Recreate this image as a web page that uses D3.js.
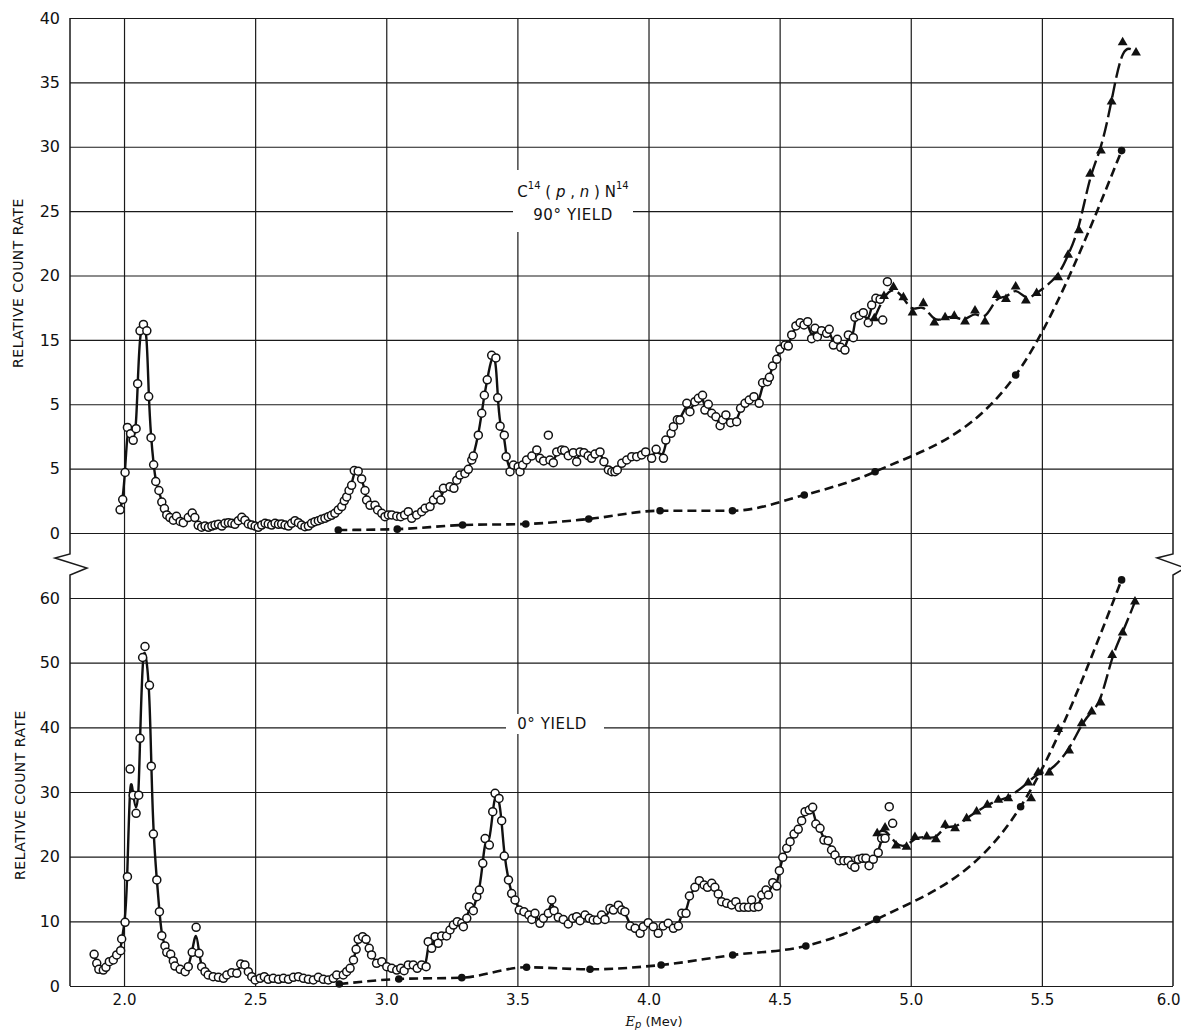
<!DOCTYPE html>
<html>
<head>
<meta charset="utf-8">
<script src="https://cdn.jsdelivr.net/npm/d3@7"></script>
<style>
body { margin: 0; background: #fff; }
svg text { font-family: "DejaVu Sans", sans-serif; fill: #111; }
</style>
</head>
<body>
<svg id="chart" width="1181" height="1032"></svg>
<script>
// x axis (proton energy, MeV)
var xTicks = [2.0, 2.5, 3.0, 3.5, 4.0, 4.5, 5.0, 5.5, 6.0];
var xTickLabels = ["2.0", "2.5", "3.0", "3.5", "4.0", "4.5", "5.0", "5.5", "6.0"];

// y ticks, upper (90 deg) and lower (0 deg) panels, labels as printed
var topTicks = [0, 5, 10, 15, 20, 25, 30, 35, 40];
var topTickLabels = ["0", "5", "5", "15", "20", "25", "30", "35", "40"];
var bottomTicks = [0, 10, 20, 30, 40, 50, 60];
var bottomTickLabels = ["0", "10", "20", "30", "40", "50", "60"];

// 90 deg yield, open circles [E, rate]
var yield90Circles = [
    [1.985,1.8],[1.995,2.6],[2.004,4.7],[2.013,8.2],[2.025,7.7],[2.035,7.2],[2.046,8.1],[2.052,11.6],
    [2.061,15.7],[2.074,16.2],[2.087,15.7],[2.094,10.6],[2.103,7.4],[2.113,5.3],[2.121,4.0],[2.133,3.3],
    [2.144,2.4],[2.154,1.9],[2.163,1.4],[2.175,1.2],[2.188,1.0],[2.2,1.3],[2.214,0.9],[2.226,0.8],
    [2.245,1.2],[2.26,1.55],[2.27,1.2],[2.283,0.6],[2.296,0.45],[2.309,0.54],[2.322,0.44],[2.335,0.54],
    [2.347,0.62],[2.36,0.67],[2.373,0.54],[2.385,0.75],[2.398,0.8],[2.411,0.75],[2.423,0.67],[2.436,0.96],
    [2.449,1.22],[2.461,1.0],[2.474,0.7],[2.487,0.62],[2.5,0.54],[2.512,0.44],[2.525,0.62],[2.538,0.75],
    [2.55,0.7],[2.563,0.62],[2.576,0.75],[2.589,0.67],[2.601,0.7],[2.614,0.62],[2.627,0.54],[2.639,0.75],
    [2.652,0.96],[2.665,0.8],[2.677,0.62],[2.69,0.49],[2.703,0.54],[2.715,0.75],[2.728,0.88],[2.741,0.96],
    [2.753,1.06],[2.766,1.14],[2.779,1.27],[2.791,1.37],[2.804,1.53],[2.817,1.79],[2.83,2.05],[2.84,2.5],
    [2.849,2.8],[2.858,3.3],[2.868,3.7],[2.878,4.85],[2.893,4.8],[2.906,4.2],[2.919,3.3],[2.925,2.56],
    [2.938,2.15],[2.957,2.15],[2.967,1.79],[2.983,1.53],[2.995,1.27],[3.008,1.4],[3.021,1.4],[3.04,1.3],
    [3.055,1.27],[3.07,1.4],[3.084,1.66],[3.097,1.14],[3.116,1.4],[3.135,1.66],[3.148,1.92],[3.167,2.05],
    [3.18,2.56],[3.195,2.95],[3.208,2.56],[3.218,3.47],[3.243,3.6],[3.258,3.47],[3.269,4.1],[3.281,4.5],
    [3.3,4.63],[3.313,4.95],[3.326,5.67],[3.332,5.98],[3.351,7.6],[3.364,9.3],[3.374,10.7],[3.385,11.9],
    [3.402,13.8],[3.418,13.6],[3.425,10.5],[3.434,8.3],[3.45,7.6],[3.457,5.93],[3.472,4.76],[3.485,5.28],
    [3.503,5.15],[3.51,4.76],[3.52,5.28],[3.535,5.67],[3.555,5.98],[3.574,6.45],[3.586,5.8],[3.6,5.6],
    [3.624,5.67],[3.637,5.46],[3.65,6.3],[3.669,6.45],[3.68,6.4],[3.694,6.0],[3.713,6.24],[3.726,5.54],
    [3.739,6.3],[3.754,6.24],[3.77,6.0],[3.783,5.8],[3.796,6.13],[3.815,6.3],[3.83,5.54],[3.847,4.9],
    [3.86,4.76],[3.872,4.76],[3.881,4.9],[3.898,5.41],[3.917,5.67],[3.936,5.93],[3.955,5.93],[3.974,6.06],
    [3.989,6.3],[4.012,5.8],[4.029,6.5],[4.057,5.8],[4.066,7.22],[4.086,7.74],[4.095,8.26],[4.11,8.8],
    [4.12,8.78],[4.146,10.07],[4.158,9.42],[4.177,10.2],[4.19,10.46],[4.206,10.7],[4.215,9.55],[4.228,10.0],
    [4.241,9.3],[4.257,9.03],[4.273,8.33],[4.283,8.78],[4.295,9.17],[4.313,8.57],[4.336,8.65],[4.351,9.68],
    [4.368,10.07],[4.384,10.33],[4.402,10.59],[4.422,10.07],[4.435,11.67],[4.453,11.75],[4.461,12.09],[4.473,12.97],
    [4.489,13.49],[4.501,14.27],[4.521,14.6],[4.533,14.52],[4.546,15.38],[4.562,16.08],[4.578,16.33],[4.593,16.16],
    [4.607,16.41],[4.622,15.09],[4.635,15.9],[4.644,15.25],[4.66,15.71],[4.679,15.51],[4.689,15.82],[4.705,14.6],
    [4.72,15.04],[4.733,14.42],[4.749,14.21],[4.762,15.38],[4.781,15.17],[4.787,16.75],[4.804,16.9],[4.819,17.11],
    [4.838,16.33],[4.851,17.7],[4.867,18.23],[4.883,18.15]
];
// 90 deg circles not on the drawn curve
var yield90Extra = [[3.618,7.6],[4.893,16.54],[4.911,19.52]];
// 90 deg yield, filled triangles
var yield90Triangles = [
    [4.861,16.67],[4.898,18.4],[4.934,19.1],[4.972,18.3],[5.007,17.12],[5.048,17.84],[5.09,16.33],[5.131,16.75],
    [5.166,16.85],[5.207,16.41],[5.245,17.27],[5.283,16.41],[5.328,18.48],[5.363,18.17],[5.4,19.13],[5.439,18.04],
    [5.48,18.62],[5.562,19.86],[5.6,21.6],[5.641,23.5],[5.684,27.9],[5.725,29.7],[5.766,33.5],[5.808,38.1],[5.859,37.3]
];
var yield90TriExtra = [];
// 90 deg background, filled circles on dashed curve
var yield90Background = [
    [2.817,0.23],[3.042,0.3],[3.291,0.62],[3.532,0.7],[3.772,1.09],[4.044,1.73],[4.32,1.73],
    [4.594,2.95],[4.864,4.76],[5.4,12.27],[5.804,29.7]
];

// 0 deg yield, open circles
var yield0Circles = [
    [1.886,4.9],[1.896,3.5],[1.904,2.58],[1.921,2.47],[1.931,2.89],[1.944,3.76],[1.959,4.02],[1.972,4.8],
    [1.987,5.46],[1.991,7.27],[2.004,9.85],[2.013,16.9],[2.023,33.55],[2.035,29.5],[2.046,26.7],[2.056,29.5],
    [2.061,38.3],[2.071,50.8],[2.08,52.5],[2.097,46.5],[2.104,34.0],[2.112,23.5],[2.125,16.4],[2.135,11.5],
    [2.144,7.78],[2.156,6.19],[2.163,5.2],[2.178,4.9],[2.188,3.87],[2.194,3.09],[2.214,2.58],[2.233,2.22],
    [2.245,2.99],[2.26,5.2],[2.275,9.07],[2.286,5.05],[2.296,2.99],[2.309,2.22],[2.321,1.7],[2.34,1.44],
    [2.36,1.34],[2.379,1.19],[2.392,1.7],[2.411,2.06],[2.43,1.96],[2.445,3.4],[2.461,3.25],[2.474,2.22],
    [2.487,1.44],[2.5,0.93],[2.519,1.19],[2.535,1.44],[2.55,1.03],[2.569,1.19],[2.589,1.03],[2.608,1.19],
    [2.627,1.03],[2.646,1.34],[2.665,1.44],[2.684,1.19],[2.703,1.03],[2.722,0.93],[2.741,1.34],[2.76,1.03],
    [2.779,0.93],[2.798,1.19],[2.811,1.7],[2.836,1.7],[2.849,2.22],[2.862,2.73],[2.875,4.02],[2.885,5.67],
    [2.893,7.22],[2.91,7.63],[2.923,7.22],[2.935,5.83],[2.944,4.8],[2.963,3.5],[2.983,3.76],[3.002,2.99],
    [3.021,2.73],[3.04,2.47],[3.055,2.73],[3.068,2.37],[3.084,3.25],[3.103,3.25],[3.118,2.73],[3.135,3.25],
    [3.152,2.99],[3.16,6.86],[3.173,5.83],[3.186,7.63],[3.198,6.6],[3.211,7.73],[3.23,7.73],[3.243,8.66],
    [3.256,9.43],[3.271,9.94],[3.288,9.69],[3.294,9.17],[3.307,10.47],[3.317,12.26],[3.332,11.64],[3.345,13.81],
    [3.355,14.84],[3.368,18.97],[3.377,22.8],[3.393,21.8],[3.406,26.95],[3.415,29.8],[3.43,29.0],[3.44,25.56],
    [3.45,20.1],[3.466,16.4],[3.478,14.3],[3.491,13.3],[3.507,11.75],[3.525,11.5],[3.544,10.98],[3.555,10.3],
    [3.567,11.24],[3.586,9.69],[3.599,10.47],[3.618,11.24],[3.631,13.3],[3.64,11.64],[3.656,10.62],[3.675,10.3],
    [3.694,9.59],[3.711,10.47],[3.726,10.72],[3.739,10.1],[3.758,10.98],[3.774,10.47],[3.789,10.2],[3.805,10.2],
    [3.821,10.98],[3.834,10.3],[3.853,12.0],[3.866,11.75],[3.885,12.5],[3.898,11.75],[3.91,11.5],[3.93,9.28],
    [3.949,8.92],[3.968,8.15],[3.98,9.17],[3.999,9.79],[4.018,9.17],[4.037,8.15],[4.056,9.28],[4.075,9.69],
    [4.095,8.92],[4.114,9.28],[4.127,11.24],[4.143,11.24],[4.156,13.92],[4.177,15.26],[4.194,16.29],[4.212,15.62],
    [4.225,15.26],[4.241,15.88],[4.253,15.26],[4.266,14.23],[4.279,13.04],[4.298,12.79],[4.317,12.53],[4.333,13.04],
    [4.346,12.17],[4.364,12.17],[4.381,12.17],[4.393,13.3],[4.402,12.17],[4.419,12.26],[4.432,14.07],[4.448,14.84],
    [4.457,14.07],[4.474,15.98],[4.489,15.46],[4.499,17.83],[4.512,19.9],[4.527,21.29],[4.54,22.31],[4.555,23.5],
    [4.571,24.23],[4.584,25.56],[4.597,26.95],[4.613,27.21],[4.626,27.63],[4.638,25.05],[4.654,24.38],[4.669,22.57],
    [4.685,22.47],[4.698,21.03],[4.711,20.26],[4.727,19.38],[4.745,19.38],[4.761,19.38],[4.774,18.71],[4.787,18.35],
    [4.8,19.59],[4.816,19.74],[4.829,19.74],[4.841,18.6],[4.857,19.59],[4.876,20.62],[4.889,22.84],[4.902,22.84]
];
var yield0Extra = [[4.918,27.73],[4.931,25.16]];
var yield0Triangles = [
    [4.872,23.6],[4.902,24.5],[4.944,21.7],[4.984,21.5],[5.016,23.0],[5.061,23.09],[5.096,22.68],[5.131,24.9],
    [5.169,24.38],[5.213,25.93],[5.251,26.95],[5.292,27.99],[5.334,28.76],[5.372,29.02],[5.448,31.43],
    [5.486,33.04],[5.528,32.99],[5.604,36.38],[5.652,40.62],[5.69,42.41],[5.724,43.81],[5.768,51.18],
    [5.808,54.63],[5.855,59.43]
];
// 0 deg triangles lying off the drawn curve
var yield0TriExtra = [[5.459,29.02],[5.562,39.7]];
var yield0Background = [
    [2.821,0.3],[3.048,1.08],[3.288,1.29],[3.535,2.89],[3.777,2.58],[4.048,3.25],[4.321,4.79],
    [4.6,6.19],[4.87,10.3],[5.419,27.73],[5.804,62.8]
];

var svg = d3.select("#chart");

var x = d3.scaleLinear().domain([1.794, 6.0]).range([70, 1173]);
var yTop = d3.scaleLinear().domain([0, 40]).range([533, 18]);
var yBot = d3.scaleLinear().domain([0, 60]).range([986, 598]);

var left = x.range()[0], right = x.range()[1];
var gridColor = "#1a1a1a";

// vertical grid lines (all but the right frame edge)
svg.append("g")
    .attr("transform", "translate(0," + yBot(0) + ")")
    .call(d3.axisBottom(x).tickValues(xTicks.slice(0, -1)).tickSize(-(yBot(0) - yTop(40))).tickFormat(""))
    .call(function (g) {
        g.select(".domain").remove();
        g.selectAll("line").attr("stroke", gridColor).attr("stroke-width", 1.2);
    });

// x tick labels
svg.append("g")
    .attr("transform", "translate(0," + yBot(0) + ")")
    .call(d3.axisBottom(x).tickValues(xTicks).tickSize(0).tickPadding(8)
        .tickFormat(function (d, i) { return xTickLabels[i]; }))
    .call(function (g) {
        g.select(".domain").remove();
        g.selectAll("text").style("font-size", "15px").attr("fill", "#111");
        // last label sits on the window edge: keep it inside
        g.selectAll(".tick:last-of-type text").attr("text-anchor", "end").attr("x", 1180 - right);
    });

// horizontal grid lines with y labels for both panels
function yGrid(scale, ticks, labels) {
    svg.append("g")
        .attr("transform", "translate(" + left + ",0)")
        .call(d3.axisLeft(scale).tickValues(ticks).tickSize(-(right - left)).tickPadding(10)
            .tickFormat(function (d, i) { return labels[i]; }))
        .call(function (g) {
            g.select(".domain").remove();
            g.selectAll("line").attr("stroke", gridColor).attr("stroke-width", 1.2);
            g.selectAll("text").style("font-size", "16px").attr("fill", "#111");
        });
}
yGrid(yTop, topTicks, topTickLabels);
yGrid(yBot, bottomTicks, bottomTickLabels);

// frame edges with the break zig-zags between the panels
var gapY = yTop(0);
function edge(xe, out, back) {
    var p = d3.path();
    p.moveTo(xe, yTop(40));
    p.lineTo(xe, gapY + 21);
    p.lineTo(xe + out, gapY + 25);
    p.lineTo(xe + back, gapY + 35);
    p.lineTo(xe, gapY + 42);
    p.lineTo(xe, yBot(0));
    return p.toString();
}
svg.append("path").attr("d", edge(left, -15, 17))
    .attr("fill", "none").attr("stroke", gridColor).attr("stroke-width", 1.5);
svg.append("path").attr("d", edge(right, -16, 12))
    .attr("fill", "none").attr("stroke", gridColor).attr("stroke-width", 1.5);

// axis titles
svg.append("text")
    .attr("transform", "translate(23,283) rotate(-90)")
    .attr("text-anchor", "middle")
    .style("font-size", "14px")
    .style("letter-spacing", "0.5px")
    .text("RELATIVE COUNT RATE");
svg.append("text")
    .attr("transform", "translate(25,795) rotate(-90)")
    .attr("text-anchor", "middle")
    .style("font-size", "14px")
    .style("letter-spacing", "0.5px")
    .text("RELATIVE COUNT RATE");

var xt = svg.append("text")
    .attr("x", 654).attr("y", 1026)
    .attr("text-anchor", "middle")
    .style("font-size", "13px");
xt.append("tspan").style("font-style", "italic").style("font-family", "'DejaVu Serif', serif").text("E");
xt.append("tspan").style("font-style", "italic").style("font-size", "10px").attr("dy", 2).text("p");
xt.append("tspan").attr("dy", -2).text(" (Mev)");

// panel labels on white patches
svg.append("rect").attr("x", 513).attr("y", 170).attr("width", 120).attr("height", 62).attr("fill", "#fff");
var lab = svg.append("text")
    .attr("x", 573).attr("y", 197)
    .attr("text-anchor", "middle")
    .style("font-size", "15px");
lab.append("tspan").text("C");
lab.append("tspan").attr("dy", -8).style("font-size", "10px").text("14");
lab.append("tspan").attr("dy", 8).text(" ( ");
lab.append("tspan").style("font-style", "italic").text("p");
lab.append("tspan").text(" , ");
lab.append("tspan").style("font-style", "italic").text("n");
lab.append("tspan").text(" ) N");
lab.append("tspan").attr("dy", -8).style("font-size", "10px").text("14");
svg.append("text")
    .attr("x", 573).attr("y", 220)
    .attr("text-anchor", "middle")
    .style("font-size", "15px")
    .style("letter-spacing", "0.6px")
    .text("90° YIELD");

svg.append("rect").attr("x", 506).attr("y", 714).attr("width", 98).attr("height", 20).attr("fill", "#fff");
svg.append("text")
    .attr("x", 552).attr("y", 729)
    .attr("text-anchor", "middle")
    .style("font-size", "15px")
    .style("letter-spacing", "0.6px")
    .text("0° YIELD");

// curves
function lineFor(scale, curve) {
    return d3.line()
        .x(function (d) { return x(d[0]); })
        .y(function (d) { return scale(d[1]); })
        .curve(curve);
}

function drawPanel(scale, circles, extra, triangles, triExtra, background) {
    var g = svg.append("g");

    g.append("path").datum(background)
        .attr("d", lineFor(scale, d3.curveMonotoneX))
        .attr("fill", "none").attr("stroke", "#111")
        .attr("stroke-width", 2.6).attr("stroke-dasharray", "9,5");

    g.append("path").datum(circles)
        .attr("d", lineFor(scale, d3.curveBasis))
        .attr("fill", "none").attr("stroke", "#111").attr("stroke-width", 2.4);

    g.append("path").datum(triangles)
        .attr("d", lineFor(scale, d3.curveBasis))
        .attr("fill", "none").attr("stroke", "#111")
        .attr("stroke-width", 2.4).attr("stroke-dasharray", "15,5");

    g.selectAll("circle.open")
        .data(circles.concat(extra))
        .enter().append("circle")
        .attr("class", "open")
        .attr("cx", function (d) { return x(d[0]); })
        .attr("cy", function (d) { return scale(d[1]); })
        .attr("r", 4)
        .attr("fill", "#fff").attr("stroke", "#111").attr("stroke-width", 1.5);

    g.selectAll("path.tri")
        .data(triangles.concat(triExtra))
        .enter().append("path")
        .attr("class", "tri")
        .attr("d", d3.symbol(d3.symbolTriangle, 42))
        .attr("transform", function (d) { return "translate(" + x(d[0]) + "," + scale(d[1]) + ")"; })
        .attr("fill", "#111");

    g.selectAll("circle.dot")
        .data(background)
        .enter().append("circle")
        .attr("class", "dot")
        .attr("cx", function (d) { return x(d[0]); })
        .attr("cy", function (d) { return scale(d[1]); })
        .attr("r", 3.8)
        .attr("fill", "#111");
}

drawPanel(yTop, yield90Circles, yield90Extra, yield90Triangles, yield90TriExtra, yield90Background);
drawPanel(yBot, yield0Circles, yield0Extra, yield0Triangles, yield0TriExtra, yield0Background);
</script>
</body>
</html>
